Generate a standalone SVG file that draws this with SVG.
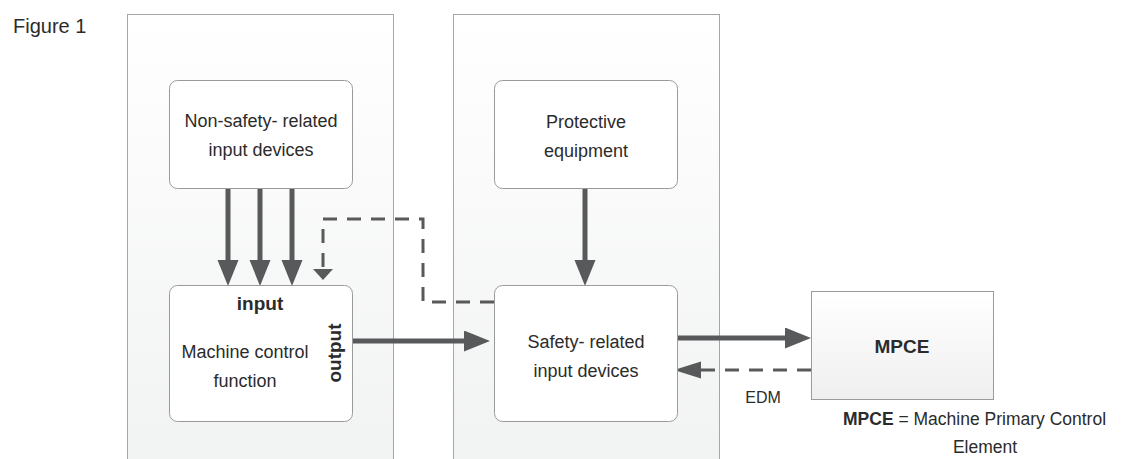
<svg xmlns="http://www.w3.org/2000/svg" width="1121" height="459" viewBox="0 0 1121 459">
  <style>
    text { font-family: "Liberation Sans", Arial, sans-serif; fill: #2b2b2b; }
    .lbl { font-size: 18px; text-anchor: middle; }
    .bold { font-weight: bold; }
    .panel { fill: url(#panelGrad); stroke: #a6a6a6; stroke-width: 1; }
    .node { fill: #ffffff; stroke: #9a9a9a; stroke-width: 1; }
    .mpce { fill: url(#mpceGrad); stroke: #9a9a9a; stroke-width: 1; }
    .thick { fill: none; stroke: #58595b; stroke-width: 5; }
    .dash { fill: none; stroke: #58595b; stroke-width: 3; stroke-dasharray: 14 10; }
  </style>
  <defs>
    <linearGradient id="panelGrad" x1="0" y1="0" x2="0" y2="1">
      <stop offset="0" stop-color="#ffffff"/>
      <stop offset="1" stop-color="#f1f2f2"/>
    </linearGradient>
    <linearGradient id="mpceGrad" x1="0" y1="0" x2="0" y2="1">
      <stop offset="0" stop-color="#ffffff"/>
      <stop offset="1" stop-color="#efefef"/>
    </linearGradient>
    <marker id="big" markerUnits="userSpaceOnUse" markerWidth="30" markerHeight="24" refX="10" refY="10.5" orient="auto">
      <path d="M0,0 L26,10.5 L0,21 z" fill="#58595b"/>
    </marker>
    <marker id="mid" markerUnits="userSpaceOnUse" markerWidth="30" markerHeight="20" refX="8" refY="8.5" orient="auto">
      <path d="M0,0 L27,8.5 L0,17 z" fill="#58595b"/>
    </marker>
    <marker id="small" markerUnits="userSpaceOnUse" markerWidth="14" markerHeight="22" refX="4" refY="10" orient="auto">
      <path d="M0,0 L11,10 L0,20 z" fill="#58595b"/>
    </marker>
  </defs>

  <rect width="1121" height="459" fill="#ffffff"/>

  <text x="13" y="33" style="font-size:20px">Figure 1</text>

  <g id="panel-left">
    <rect class="panel" x="127.5" y="14.5" width="266" height="460"/>
  </g>
  <g id="panel-right">
    <rect class="panel" x="453.5" y="14.5" width="266" height="460"/>
  </g>

  <g id="connectors">
    <line class="thick" x1="228" y1="188" x2="228" y2="270" marker-end="url(#big)"/>
    <line class="thick" x1="260" y1="188" x2="260" y2="270" marker-end="url(#big)"/>
    <line class="thick" x1="292" y1="188" x2="292" y2="270" marker-end="url(#big)"/>
    <line class="thick" x1="585" y1="188" x2="585" y2="270" marker-end="url(#big)"/>
    <line class="thick" x1="352" y1="341" x2="474" y2="341" marker-end="url(#big)"/>
    <line class="thick" x1="677" y1="338" x2="795" y2="338" marker-end="url(#big)"/>
    <path class="dash" d="M494,302 L423,302 L423,219 L323,219 L323,273" marker-end="url(#small)"/>
    <line class="dash" x1="811" y1="370" x2="693" y2="370" marker-end="url(#mid)"/>
  </g>

  <g id="node-nonsafety">
    <rect class="node" x="169.5" y="80.5" width="183" height="108" rx="8"/>
    <text class="lbl" x="261" y="127">Non-safety- related</text>
    <text class="lbl" x="261" y="156">input devices</text>
  </g>

  <g id="node-protective">
    <rect class="node" x="494.5" y="80.5" width="183" height="108" rx="8"/>
    <text class="lbl" x="586" y="128">Protective</text>
    <text class="lbl" x="586" y="157">equipment</text>
  </g>

  <g id="node-machine">
    <rect class="node" x="169.5" y="285.5" width="183" height="136" rx="8"/>
    <text class="lbl bold" x="260" y="310" style="font-size:19px">input</text>
    <text class="lbl" x="245" y="358">Machine control</text>
    <text class="lbl" x="245" y="387">function</text>
    <text class="lbl bold" transform="translate(341,353) rotate(-90)" style="font-size:19px">output</text>
  </g>

  <g id="node-safety">
    <rect class="node" x="494.5" y="285.5" width="183" height="136" rx="8"/>
    <text class="lbl" x="586" y="348">Safety- related</text>
    <text class="lbl" x="586" y="377">input devices</text>
  </g>

  <g id="node-mpce">
    <rect class="mpce" x="811.5" y="291.5" width="182" height="108"/>
    <text class="lbl bold" x="902" y="353" style="font-size:19px">MPCE</text>
  </g>

  <text x="763" y="403" text-anchor="middle" style="font-size:16px">EDM</text>

  <text x="843" y="425" style="font-size:17.5px"><tspan font-weight="bold">MPCE</tspan> = Machine Primary Control</text>
  <text x="985" y="453" text-anchor="middle" style="font-size:17.5px">Element</text>
</svg>
